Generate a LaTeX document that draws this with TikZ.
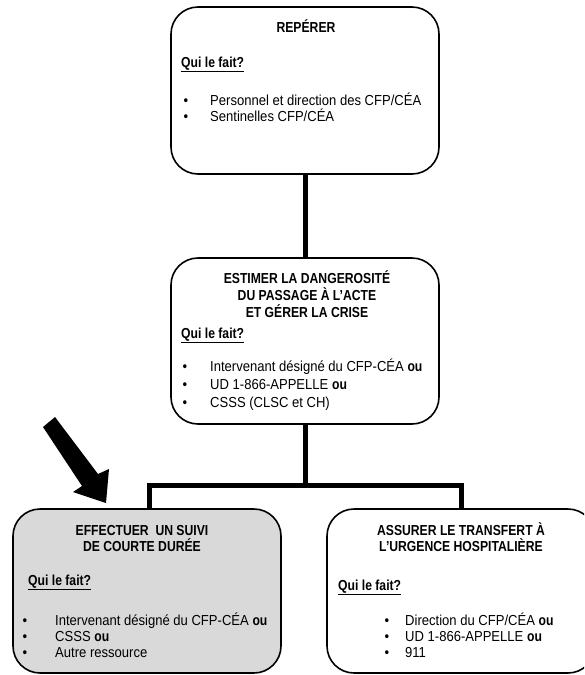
\documentclass[tikz,border=0pt]{standalone}
\usepackage{fontspec}
\setmainfont{Liberation Sans}[FakeStretch=0.9, BoldFeatures={FakeStretch=0.84}]
\usetikzlibrary{calc}
\definecolor{shade}{RGB}{217,217,217}
\begin{document}
\begin{tikzpicture}[x=1pt,y=-1pt,
  stage/.style={draw=black, line width=1.6pt, rounded corners=27pt,
    minimum width=268pt, inner sep=0pt},
  conn/.style={line width=5pt},
  ttl/.style={font=\fontsize{14.5}{16}\selectfont\bfseries, anchor=base, inner sep=0pt},
  who/.style={font=\fontsize{14.5}{16}\selectfont\bfseries, anchor=base west, inner sep=0pt},
  item/.style={font=\fontsize{14.5}{16}\selectfont, anchor=base west, inner sep=0pt},
  dot/.style={font=\fontsize{14.5}{16}\selectfont, anchor=base, inner sep=0pt}
]
\clip (0,0) rectangle (584,675);

% stage boxes
\node[stage, minimum height=167pt] (b1) at (305,90.5) {};
\node[stage, minimum height=166pt] (b2) at (305,341) {};
\node[stage, fill=shade, minimum height=164pt] (b3) at (147,591) {};
\node[stage, minimum height=164pt] (b4) at (461,591) {};

% connectors
\coordinate (split) at (305,485);
\draw[conn] (b1.south) -- (b2.north);
\draw[conn] (b2.south) -- (split);
\draw[conn] ($(b3.north)+(2.5,0)$) |- (split) -| (b4.north);

% pointer arrow
\fill[black] (43,427) -- (55,417) -- (98,474) -- (109,469) -- (106,503)
  -- (73,492) -- (82,486) -- cycle;

% box 1
\node[ttl] (t1) at (306,32) {REPÉRER};
\node[who] (q1) at (181,67) {\underline{Qui le fait?}};
\node[dot] (d1a) at (186,105) {\textbullet};
\node[item] (i1a) at (210,105) {Personnel et direction des CFP/CÉA};
\node[dot] (d1b) at (186,121) {\textbullet};
\node[item] (i1b) at (210,121) {Sentinelles CFP/CÉA};

% box 2
\node[ttl] (t2a) at (307,283) {ESTIMER LA DANGEROSITÉ};
\node[ttl] (t2b) at (307,300) {DU PASSAGE À L’ACTE};
\node[ttl] (t2c) at (307,317) {ET GÉRER LA CRISE};
\node[who] (q2) at (181,338) {\underline{Qui le fait?}};
\node[dot] (d2a) at (185,371) {\textbullet};
\node[item] (i2a) at (210,371) {Intervenant désigné du CFP-CÉA \textbf{ou}};
\node[dot] (d2b) at (185,389) {\textbullet};
\node[item] (i2b) at (210,389) {UD 1-866-APPELLE \textbf{ou}};
\node[dot] (d2c) at (185,407) {\textbullet};
\node[item] (i2c) at (210,407) {CSSS (CLSC et CH)};

% box 3
\node[ttl] (t3a) at (142,535) {EFFECTUER\ \ UN SUIVI};
\node[ttl] (t3b) at (142,551) {DE COURTE DURÉE};
\node[who] (q3) at (28,585) {\underline{Qui le fait?}};
\node[dot] (d3a) at (25,625) {\textbullet};
\node[item] (i3a) at (55,625) {Intervenant désigné du CFP-CÉA \textbf{ou}};
\node[dot] (d3b) at (25,641) {\textbullet};
\node[item] (i3b) at (55,641) {CSSS \textbf{ou}};
\node[dot] (d3c) at (25,657) {\textbullet};
\node[item] (i3c) at (55,657) {Autre ressource};

% box 4
\node[ttl] (t4a) at (461,535) {ASSURER LE TRANSFERT À};
\node[ttl] (t4b) at (461,551) {L’URGENCE HOSPITALIÈRE};
\node[who] (q4) at (338,590) {\underline{Qui le fait?}};
\node[dot] (d4a) at (387,625) {\textbullet};
\node[item] (i4a) at (405,625) {Direction du CFP/CÉA \textbf{ou}};
\node[dot] (d4b) at (387,641) {\textbullet};
\node[item] (i4b) at (405,641) {UD 1-866-APPELLE \textbf{ou}};
\node[dot] (d4c) at (387,657) {\textbullet};
\node[item] (i4c) at (405,657) {911};
\end{tikzpicture}
\end{document}
